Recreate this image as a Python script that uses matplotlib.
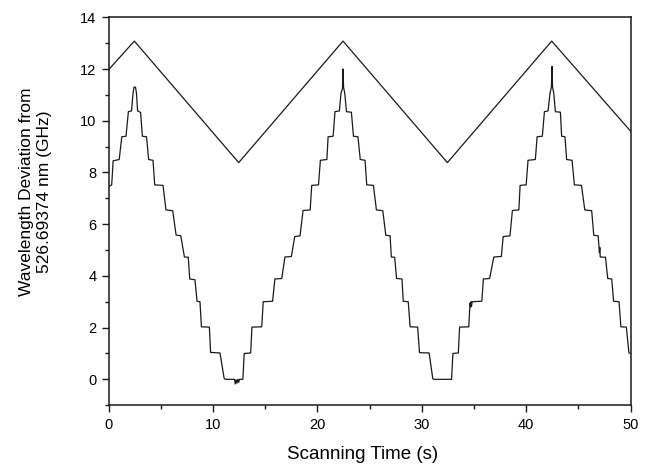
import matplotlib
matplotlib.use("Agg")
import matplotlib.pyplot as plt
from matplotlib.ticker import MultipleLocator

plt.rcParams['font.family'] = ['Liberation Sans', 'DejaVu Sans']

# Upper trace (triangular scan) vertices
scan_t = [0.0, 2.45, 12.45, 22.45, 32.45, 42.45, 50.0]
scan_y = [11.98, 13.08, 8.38, 13.08, 8.38, 13.08, 9.6]

# Lower trace (measured staircase) vertices
meas_t = [
    0.00, 0.28, 0.42, 1.00, 1.25, 1.65, 1.88, 2.18, 2.32, 2.42, 2.56, 2.66,
    2.76, 3.05, 3.22, 3.62, 3.82, 4.24, 4.40, 5.20, 5.48, 6.13, 6.45, 6.90,
    7.25, 7.62, 7.76, 8.26, 8.46, 8.74, 8.88, 9.64, 9.76, 10.66, 11.05, 11.15,
    12.05, 12.12, 12.20, 12.28, 12.36, 12.45, 12.52, 12.85,
    12.98, 13.60, 13.72, 14.66, 14.80, 15.70, 15.92, 16.58, 16.88, 17.50,
    17.82, 18.33, 18.62, 19.30, 19.45, 20.10, 20.28, 20.90, 21.02, 21.50,
    21.68, 22.10, 22.25, 22.40, 22.45, 22.50, 22.62,
    22.78, 23.25, 23.45, 23.88, 24.10, 24.56, 24.72, 25.36, 25.65, 26.26,
    26.55, 26.96, 27.08, 27.40, 27.58, 28.10, 28.22, 28.70, 28.88, 29.60,
    29.78, 30.70, 31.05, 31.15, 32.85,
    32.98, 33.50, 33.62, 34.50, 34.62, 34.68, 34.72, 34.76, 34.82, 35.75,
    35.90, 36.50, 36.90, 37.62, 37.80, 38.45, 38.68, 39.30, 39.42, 40.00,
    40.18, 40.88, 41.05, 41.55, 41.75, 42.10, 42.28, 42.42, 42.48, 42.53,
    42.65,
    42.80, 43.28, 43.40, 43.72, 43.88, 44.40, 44.62, 45.30, 45.62, 46.28,
    46.48, 46.90, 47.02, 47.06, 47.10, 47.60, 47.82, 48.20, 48.38, 48.90,
    49.08, 49.60, 49.85, 50.00,
]
meas_y = [
    7.45, 7.52, 8.45, 8.50, 9.38, 9.40, 10.35, 10.38, 11.05, 11.30, 11.30, 11.05,
    10.38, 10.32, 9.40, 9.38, 8.50, 8.47, 7.52, 7.50, 6.55, 6.52, 5.58, 5.55,
    4.73, 4.72, 3.88, 3.85, 3.02, 3.00, 2.03, 2.02, 1.04, 1.02, 0.05, 0.00,
    0.00, -0.18, -0.02, -0.15, 0.00, -0.12, 0.00, 0.00,
    1.00, 1.02, 2.02, 2.03, 3.00, 3.02, 3.88, 3.90, 4.73, 4.75,
    5.52, 5.55, 6.53, 6.55, 7.50, 7.52, 8.47, 8.50, 9.38, 9.40,
    10.35, 10.38, 11.05, 11.25, 12.00, 11.30, 11.05,
    10.35, 10.33, 9.40, 9.38, 8.50, 8.47, 7.52, 7.50, 6.55, 6.52,
    5.57, 5.55, 4.73, 4.72, 3.90, 3.88, 3.02, 3.00, 2.03, 2.02,
    1.03, 1.02, 0.03, 0.00, 0.00,
    1.00, 1.02, 2.02, 2.03, 2.95, 2.80, 3.00, 2.82, 3.00, 3.02,
    3.88, 3.90, 4.73, 4.75, 5.52, 5.55, 6.53, 6.55, 7.50, 7.52,
    8.47, 8.50, 9.38, 9.40, 10.35, 10.38, 11.05, 11.30, 12.10, 11.30,
    11.05,
    10.35, 10.33, 9.40, 9.38, 8.50, 8.47, 7.52, 7.50, 6.55, 6.52,
    5.57, 5.55, 4.90, 5.10, 4.73, 4.72, 3.90, 3.88, 3.02, 3.00,
    2.03, 2.02, 1.02, 1.00,
]

x_label = "Scanning Time (s)"
y_label = "Wavelength Deviation from\n526.69374 nm (GHz)"

fig = plt.figure(figsize=(6.49, 4.66), dpi=100)
ax = fig.add_axes([0.1676, 0.1305, 0.8039, 0.8324])

ax.plot(scan_t, scan_y, color='#1a1a1a', lw=0.9)
ax.plot(meas_t, meas_y, color='#1a1a1a', lw=0.9)

ax.set_xlim(0, 50)
ax.set_ylim(-1, 14)
ax.xaxis.set_major_locator(MultipleLocator(10))
ax.xaxis.set_minor_locator(MultipleLocator(5))
ax.yaxis.set_major_locator(MultipleLocator(2))
ax.yaxis.set_minor_locator(MultipleLocator(1))

ax.tick_params(which='both', direction='out', top=False, right=False,
               labelsize=10.5, width=1.0, color='#1a1a1a')
ax.tick_params(which='major', length=5, pad=4)
ax.tick_params(which='minor', length=3)
for s in ax.spines.values():
    s.set_linewidth(1.1)
    s.set_color('#1a1a1a')

ax.set_xlabel(x_label, fontsize=13.5)
ax.xaxis.set_label_coords(0.487, -0.105)
ax.xaxis.label.set_verticalalignment('top')
ax.set_ylabel(y_label, fontsize=12.5, linespacing=1.3)
ax.yaxis.set_label_coords(-0.108, 0.55)

fig.savefig("out.png", dpi=100)
